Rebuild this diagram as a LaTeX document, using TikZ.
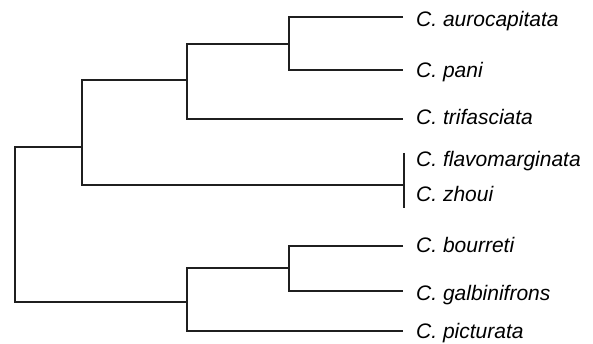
\documentclass[tikz,border=0pt]{standalone}
\usepackage{fontspec}
\setmainfont{Liberation Sans}
\begin{document}
\begin{tikzpicture}[x=1pt,y=-1pt,
  branch/.style={line width=1.4pt, draw=black!88},
  taxon/.style={anchor=base west, inner sep=0pt, font=\fontsize{21}{25}\selectfont\itshape}]
\useasboundingbox (0,0) rectangle (593,344);

% taxon labels
\node[taxon] (aur) at (416,26.7) {C. aurocapitata};
\node[taxon] (pan) at (416,78)   {C. pani};
\node[taxon] (tri) at (416,125)  {C. trifasciata};
\node[taxon] (fla) at (416,167)  {C. flavomarginata};
\node[taxon] (zho) at (416,202)  {C. zhoui};
\node[taxon] (bou) at (416,252)  {C. bourreti};
\node[taxon] (gal) at (416,300)  {C. galbinifrons};
\node[taxon] (pic) at (416,338)  {C. picturata};

% branch tips
\coordinate (t1) at (403,17);
\coordinate (t2) at (403,70);
\coordinate (t3) at (403,119);
\coordinate (t4) at (404,153);
\coordinate (t5) at (404,208);
\coordinate (t6) at (403,246);
\coordinate (t7) at (403,291);
\coordinate (t8) at (403,331);

% internal nodes
\coordinate (nC) at (289,44);
\coordinate (nB) at (187,80);
\coordinate (nF) at (404,185);
\coordinate (nA) at (82,147);
\coordinate (nE) at (289,268);
\coordinate (nD) at (187,302);
\coordinate (root) at (15,225);

% tree
\draw[branch] (t1) -| (nC) |- (t2);
\draw[branch] (nC) -| (nB) |- (t3);
\draw[branch] (t4) -- (t5);
\draw[branch] (nB) -| (nA) |- (nF);
\draw[branch] (t6) -| (nE) |- (t7);
\draw[branch] (nE) -| (nD) |- (t8);
\draw[branch] (nA) -| (root) |- (nD);
\end{tikzpicture}
\end{document}
